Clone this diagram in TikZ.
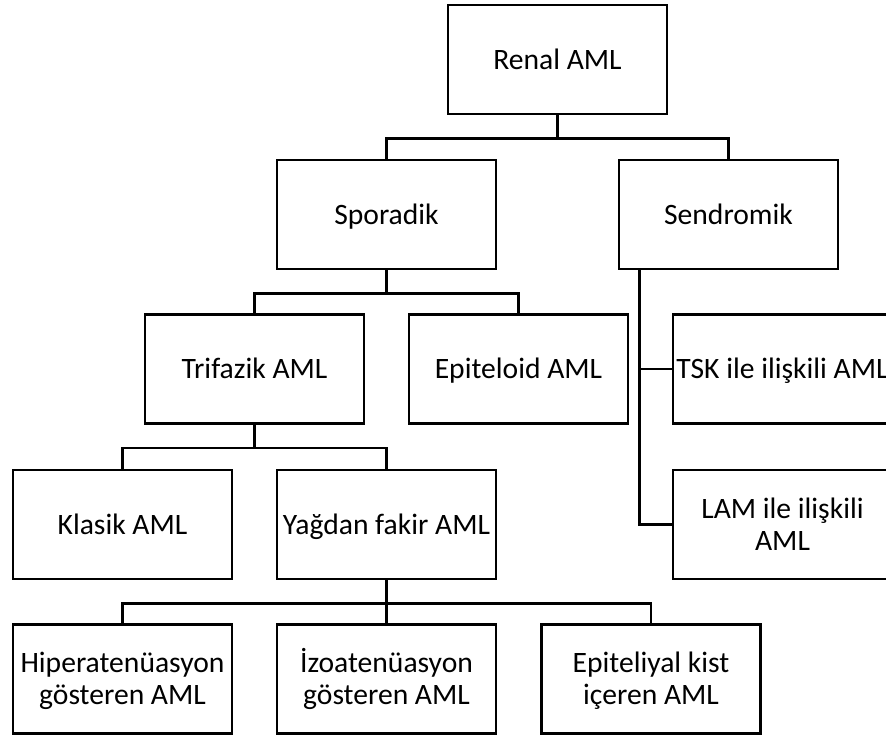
\documentclass[tikz,border=0pt]{standalone}
\usepackage{fontspec}
\setmainfont{Carlito}
\tikzset{
  every picture/.style={line width=1.4pt},
  box/.style={draw, rectangle, minimum width=109.5pt, minimum height=54.5pt, inner sep=0pt, align=center,
    text height=9.5pt, text depth=0pt, font=\fontsize{14.8pt}{16pt}\selectfont},
  boxtwo/.style={box, text height=25.5pt},
  link/.style={draw, line width=1.4pt},
}
\begin{document}
\begin{tikzpicture}[x=0.5pt, y=0.5pt]
  \clip (0,0) rectangle (886,736);
  % ---------- root and first level ----------
  \node[box] (renal) at (557.5,676.5) {Renal AML};
  \node[box] (sporadik) at (386.5,521.5) {Sporadik};
  \node[box] (sendromik) at (728.5,521.5) {Sendromik};
  \draw[link] (renal.south) -- ++(0,-23) -| (sporadik.north);
  \draw[link] (renal.south) -- ++(0,-23) -| (sendromik.north);
  % ---------- sporadik branch ----------
  \node[box] (trifazik) at (254.5,367) {Trifazik AML};
  \node[box] (epiteloid) at (518.5,367) {Epiteloid AML};
  \draw[link] (sporadik.south) -- ++(0,-23) -| (trifazik.north);
  \draw[link] (sporadik.south) -- ++(0,-23) -| (epiteloid.north);
  \node[box] (klasik) at (122.5,211.5) {Klasik AML};
  \node[box] (yagdan) at (386.5,211.5) {Yağdan fakir AML};
  \draw[link] (trifazik.south) -- ++(0,-23) -| (klasik.north);
  \draw[link] (trifazik.south) -- ++(0,-23) -| (yagdan.north);
  \node[boxtwo] (hiper) at (122.5,57) {Hiperatenüasyon\\gösteren AML};
  \node[boxtwo] (izo) at (386.5,57) {İzoatenüasyon\\gösteren AML};
  \node[boxtwo] (kist) at (651,57) {Epiteliyal kist\\içeren AML};
  \draw[link] (yagdan.south) -- ++(0,-23) -| (hiper.north);
  \draw[link] (yagdan.south) -- (izo.north);
  \draw[link] (yagdan.south) -- ++(0,-23) -| (kist.north);
  % ---------- sendromik branch (side spine) ----------
  \node[box] (tsk) at (782.5,367) {TSK ile ilişkili AML};
  \node[boxtwo] (lam) at (782.5,211.5) {LAM ile ilişkili\\AML};
  \coordinate (spine) at ([xshift=11pt]sendromik.south west);
  \draw[link] (spine) |- (lam.west);
  \draw[link] (spine |- tsk.west) -- (tsk.west);
\end{tikzpicture}
\end{document}
